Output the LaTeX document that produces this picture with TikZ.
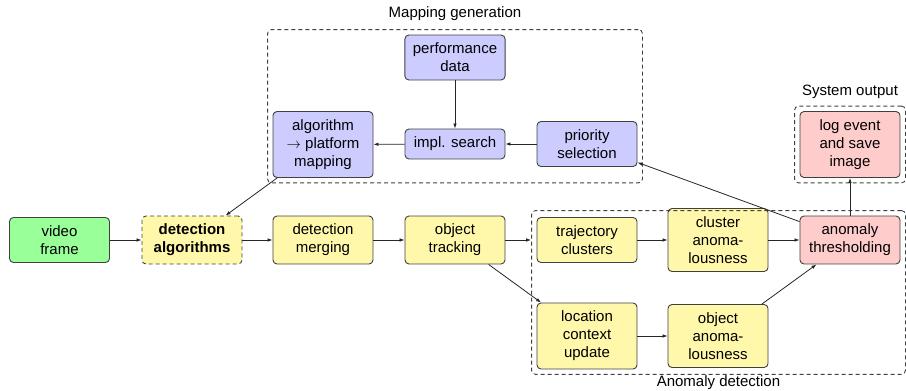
\documentclass[tikz,border=0pt]{standalone}
\usepackage{fontspec}
\setmainfont{Liberation Sans}
\usetikzlibrary{arrows.meta,fit,calc}
\definecolor{cblue}{HTML}{CCCCFF}
\definecolor{cgreen}{HTML}{99FF99}
\definecolor{cyellow}{HTML}{FFF7AA}
\definecolor{cred}{HTML}{FFCCCC}
\begin{document}
\begin{tikzpicture}[x=1pt,y=-1pt,
  every node/.style={font=\fontsize{15}{18}\selectfont},
  box/.style={draw=black!75, line width=0.9pt, rounded corners=4pt, minimum width=100pt, inner sep=8pt, align=center},
  grp/.style={draw=black!75, dash pattern=on 4pt off 3pt, line width=0.9pt, rounded corners=4pt, inner sep=5pt},
  conn/.style={-{Latex[length=5pt,width=3.6pt]}, line width=0.8pt, draw=black!85},
  lbl/.style={anchor=base, inner sep=0pt}]
\useasboundingbox (0,0) rectangle (906,391);
\node[box, fill=cgreen] (video) at (59.5,240) {video\\frame};
\node[box, fill=cyellow, dash pattern=on 4pt off 3pt, font=\fontsize{15}{18}\selectfont\bfseries] (detalg) at (192,240) {detection\\algorithms};
\node[box, fill=cyellow] (merge) at (323,240) {detection\\merging};
\node[box, fill=cyellow] (track) at (455,240) {object\\tracking};
\node[box, fill=cyellow] (traj) at (587,240) {trajectory\\clusters};
\node[box, fill=cyellow] (canom) at (718,240) {cluster\\anoma-\\lousness};
\node[box, fill=cred] (thresh) at (850,240) {anomaly\\thresholding};
\node[box, fill=cyellow] (loc) at (587,336) {location\\context\\update};
\node[box, fill=cyellow] (oanom) at (718,336) {object\\anoma-\\lousness};
\node[box, fill=cred] (log) at (850,144.5) {log event\\and save\\image};
\node[box, fill=cblue] (map) at (323,144.5) {algorithm\\$\rightarrow$ platform\\mapping};
\node[box, fill=cblue] (impl) at (455,144) {impl. search};
\node[box, fill=cblue] (prio) at (587,144) {priority\\selection};
\node[box, fill=cblue] (perf) at (455,57.5) {performance\\data};
\node[grp, fit=(perf)(map)(prio)] (mapgrp) {};
\node[grp, fit=(log)] (sysgrp) {};
\node[grp, fit=(traj)(loc)(thresh)] (adgrp) {};
\node[lbl] (maplbl) at ($(mapgrp.north)+(0,-12)$) {Mapping generation};
\node[lbl] (syslbl) at ($(sysgrp.north)+(0,-10)$) {System output};
\node[lbl] (adlbl) at ($(adgrp.south)+(0,12)$) {Anomaly detection};
\coordinate (trajin) at (track -| adgrp.west);
\draw[conn] (video) -- (detalg);
\draw[conn] (detalg) -- (merge);
\draw[conn] (merge) -- (track);
\draw[conn] (track) -- (trajin);
\draw[conn] (traj) -- (canom);
\draw[conn] (canom) -- (thresh);
\draw[conn] (track) -- (loc);
\draw[conn] (loc) -- (oanom);
\draw[conn] (oanom) -- (thresh);
\draw[conn] (thresh) -- (log);
\draw[conn] (thresh) -- (prio);
\draw[conn] (perf) -- (impl);
\draw[conn] (prio) -- (impl);
\draw[conn] (impl) -- (map);
\draw[conn] (map) -- (detalg);
\end{tikzpicture}
\end{document}
